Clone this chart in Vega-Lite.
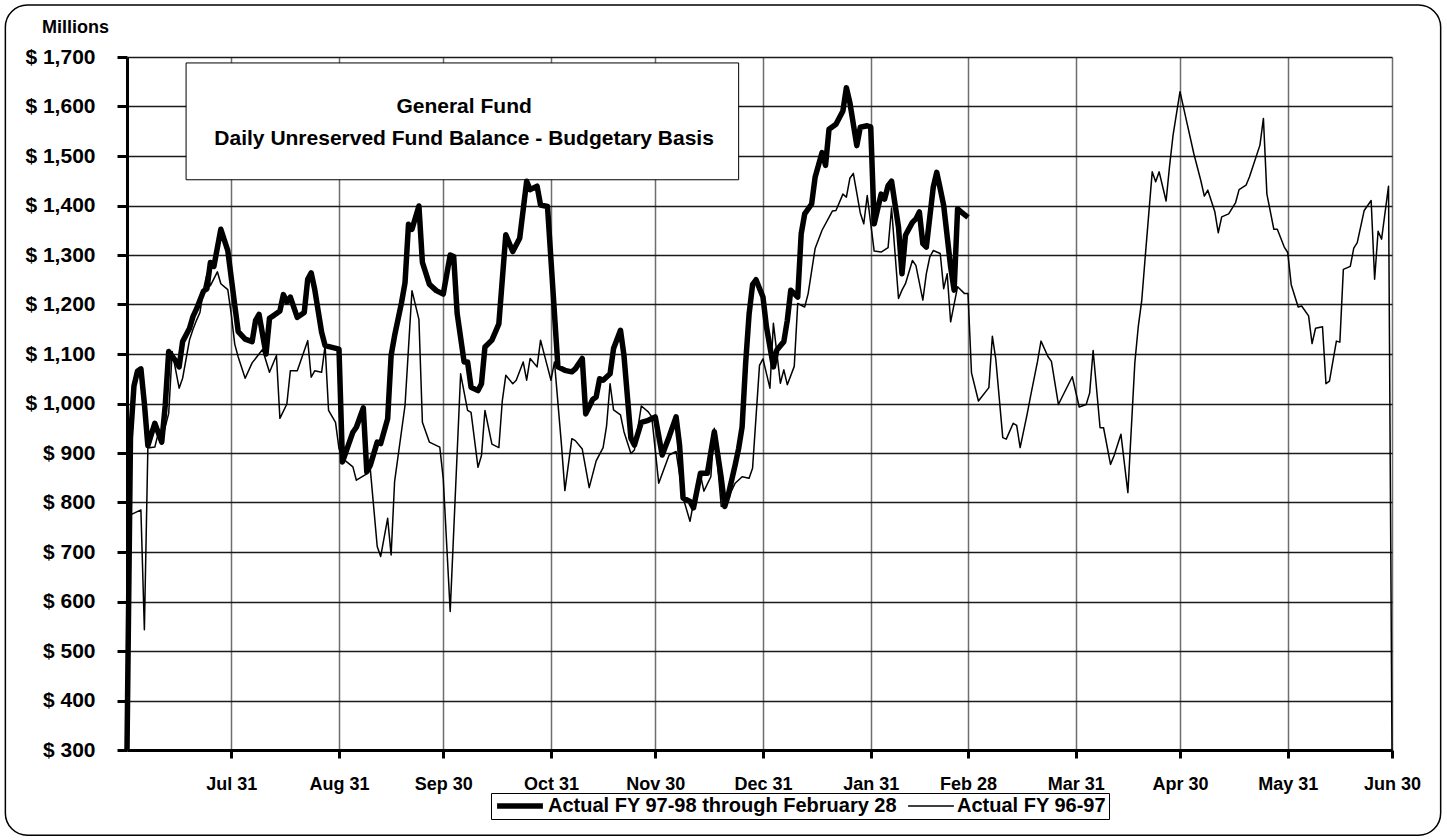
{
  "$schema": "https://vega.github.io/schema/vega-lite/v6.json",
  "width": 1265,
  "height": 693,
  "autosize": {"type": "none"},
  "padding": {"left": 127, "top": 57, "right": 55, "bottom": 90},
  "background": "white",
  "config": {"view": {"stroke": null}, "font": "Liberation Sans"},
  "datasets": {
    "fy9798": [
      {"date":"1997-07-01","value":300},{"date":"1997-07-02","value":930},{"date":"1997-07-03","value":1035},{"date":"1997-07-04","value":1065},{"date":"1997-07-05","value":1070},{"date":"1997-07-06","value":1000},{"date":"1997-07-07","value":915},{"date":"1997-07-09","value":960},{"date":"1997-07-11","value":922},{"date":"1997-07-12","value":996},{"date":"1997-07-13","value":1105},{"date":"1997-07-15","value":1086},{"date":"1997-07-16","value":1074},{"date":"1997-07-17","value":1125},{"date":"1997-07-19","value":1152},{"date":"1997-07-20","value":1176},{"date":"1997-07-21","value":1191},{"date":"1997-07-23","value":1227},{"date":"1997-07-24","value":1232},{"date":"1997-07-25","value":1285},{"date":"1997-07-26","value":1277},{"date":"1997-07-28","value":1352},{"date":"1997-07-30","value":1309},
      {"date":"1997-08-01","value":1199},{"date":"1997-08-02","value":1145},{"date":"1997-08-04","value":1130},{"date":"1997-08-06","value":1125},{"date":"1997-08-07","value":1168},{"date":"1997-08-08","value":1180},{"date":"1997-08-10","value":1100},{"date":"1997-08-11","value":1172},{"date":"1997-08-12","value":1177},{"date":"1997-08-14","value":1187},{"date":"1997-08-15","value":1220},{"date":"1997-08-16","value":1205},{"date":"1997-08-17","value":1215},{"date":"1997-08-19","value":1174},{"date":"1997-08-21","value":1184},{"date":"1997-08-22","value":1251},{"date":"1997-08-23","value":1264},{"date":"1997-08-24","value":1231},{"date":"1997-08-26","value":1144},{"date":"1997-08-27","value":1117},{"date":"1997-08-31","value":1110},
      {"date":"1997-09-01","value":882},{"date":"1997-09-04","value":942},{"date":"1997-09-05","value":952},{"date":"1997-09-07","value":991},{"date":"1997-09-08","value":862},{"date":"1997-09-09","value":875},{"date":"1997-09-11","value":922},{"date":"1997-09-12","value":919},{"date":"1997-09-14","value":969},{"date":"1997-09-15","value":1097},{"date":"1997-09-16","value":1137},{"date":"1997-09-18","value":1204},{"date":"1997-09-19","value":1244},{"date":"1997-09-20","value":1362},{"date":"1997-09-21","value":1352},{"date":"1997-09-23","value":1399},{"date":"1997-09-24","value":1285},{"date":"1997-09-26","value":1241},{"date":"1997-09-28","value":1228},{"date":"1997-09-30","value":1221},
      {"date":"1997-10-02","value":1300},{"date":"1997-10-03","value":1297},{"date":"1997-10-04","value":1182},{"date":"1997-10-06","value":1084},{"date":"1997-10-07","value":1084},{"date":"1997-10-08","value":1033},{"date":"1997-10-10","value":1026},{"date":"1997-10-11","value":1040},{"date":"1997-10-12","value":1114},{"date":"1997-10-14","value":1128},{"date":"1997-10-16","value":1161},{"date":"1997-10-18","value":1341},{"date":"1997-10-20","value":1307},{"date":"1997-10-22","value":1334},{"date":"1997-10-24","value":1449},{"date":"1997-10-25","value":1432},{"date":"1997-10-27","value":1439},{"date":"1997-10-28","value":1401},{"date":"1997-10-30","value":1398},
      {"date":"1997-11-02","value":1074},{"date":"1997-11-04","value":1067},{"date":"1997-11-06","value":1064},{"date":"1997-11-07","value":1070},{"date":"1997-11-09","value":1091},{"date":"1997-11-10","value":979},{"date":"1997-11-12","value":1008},{"date":"1997-11-13","value":1013},{"date":"1997-11-14","value":1050},{"date":"1997-11-15","value":1047},{"date":"1997-11-17","value":1060},{"date":"1997-11-18","value":1111},{"date":"1997-11-20","value":1148},{"date":"1997-11-21","value":1097},{"date":"1997-11-23","value":930},{"date":"1997-11-24","value":916},{"date":"1997-11-26","value":962},{"date":"1997-11-28","value":966},{"date":"1997-11-30","value":973},
      {"date":"1997-12-02","value":896},{"date":"1997-12-04","value":933},{"date":"1997-12-06","value":973},{"date":"1997-12-07","value":916},{"date":"1997-12-08","value":809},{"date":"1997-12-10","value":802},{"date":"1997-12-11","value":789},{"date":"1997-12-13","value":859},{"date":"1997-12-15","value":859},{"date":"1997-12-17","value":943},{"date":"1997-12-19","value":849},{"date":"1997-12-20","value":792},{"date":"1997-12-21","value":815},{"date":"1997-12-23","value":876},{"date":"1997-12-24","value":909},{"date":"1997-12-25","value":953},{"date":"1997-12-26","value":1080},{"date":"1997-12-27","value":1180},{"date":"1997-12-28","value":1240},{"date":"1997-12-29","value":1250},{"date":"1997-12-31","value":1215},
      {"date":"1998-01-01","value":1155},{"date":"1998-01-03","value":1074},{"date":"1998-01-04","value":1108},{"date":"1998-01-06","value":1125},{"date":"1998-01-07","value":1168},{"date":"1998-01-08","value":1229},{"date":"1998-01-10","value":1215},{"date":"1998-01-11","value":1343},{"date":"1998-01-12","value":1383},{"date":"1998-01-14","value":1403},{"date":"1998-01-15","value":1457},{"date":"1998-01-17","value":1507},{"date":"1998-01-18","value":1481},{"date":"1998-01-19","value":1554},{"date":"1998-01-21","value":1564},{"date":"1998-01-23","value":1591},{"date":"1998-01-24","value":1638},{"date":"1998-01-25","value":1608},{"date":"1998-01-27","value":1521},{"date":"1998-01-28","value":1558},{"date":"1998-01-30","value":1561},{"date":"1998-01-31","value":1559},
      {"date":"1998-02-01","value":1363},{"date":"1998-02-03","value":1423},{"date":"1998-02-04","value":1413},{"date":"1998-02-05","value":1440},{"date":"1998-02-06","value":1449},{"date":"1998-02-08","value":1356},{"date":"1998-02-09","value":1262},{"date":"1998-02-10","value":1340},{"date":"1998-02-12","value":1366},{"date":"1998-02-13","value":1373},{"date":"1998-02-14","value":1387},{"date":"1998-02-15","value":1323},{"date":"1998-02-16","value":1316},{"date":"1998-02-18","value":1437},{"date":"1998-02-19","value":1467},{"date":"1998-02-20","value":1434},{"date":"1998-02-21","value":1400},{"date":"1998-02-23","value":1276},{"date":"1998-02-24","value":1229},{"date":"1998-02-25","value":1393},{"date":"1998-02-26","value":1387},{"date":"1998-02-28","value":1376}
    ],
    "fy9697": [
      {"date":"1997-07-02","value":775},{"date":"1997-07-05","value":785},{"date":"1997-07-06","value":543},{"date":"1997-07-07","value":910},{"date":"1997-07-09","value":912},{"date":"1997-07-10","value":940},{"date":"1997-07-11","value":925},{"date":"1997-07-13","value":980},{"date":"1997-07-14","value":1105},{"date":"1997-07-16","value":1031},{"date":"1997-07-17","value":1051},{"date":"1997-07-19","value":1129},{"date":"1997-07-20","value":1150},{"date":"1997-07-21","value":1168},{"date":"1997-07-22","value":1184},{"date":"1997-07-23","value":1230},{"date":"1997-07-24","value":1262},{"date":"1997-07-25","value":1238},{"date":"1997-07-27","value":1266},{"date":"1997-07-28","value":1242},{"date":"1997-07-30","value":1230},{"date":"1997-07-31","value":1180},
      {"date":"1997-08-01","value":1120},{"date":"1997-08-02","value":1094},{"date":"1997-08-04","value":1051},{"date":"1997-08-06","value":1082},{"date":"1997-08-09","value":1109},{"date":"1997-08-11","value":1063},{"date":"1997-08-13","value":1097},{"date":"1997-08-14","value":970},{"date":"1997-08-16","value":999},{"date":"1997-08-17","value":1066},{"date":"1997-08-19","value":1066},{"date":"1997-08-22","value":1127},{"date":"1997-08-23","value":1053},{"date":"1997-08-24","value":1066},{"date":"1997-08-26","value":1063},{"date":"1997-08-27","value":1117},{"date":"1997-08-28","value":986},{"date":"1997-08-30","value":962},{"date":"1997-08-31","value":909},
      {"date":"1997-09-01","value":889},{"date":"1997-09-04","value":872},{"date":"1997-09-05","value":845},{"date":"1997-09-08","value":858},{"date":"1997-09-09","value":868},{"date":"1997-09-11","value":711},{"date":"1997-09-12","value":691},{"date":"1997-09-14","value":768},{"date":"1997-09-15","value":694},{"date":"1997-09-16","value":842},{"date":"1997-09-19","value":996},{"date":"1997-09-21","value":1228},{"date":"1997-09-23","value":1170},{"date":"1997-09-24","value":962},{"date":"1997-09-26","value":922},{"date":"1997-09-29","value":912},{"date":"1997-09-30","value":848},
      {"date":"1997-10-02","value":580},{"date":"1997-10-05","value":1060},{"date":"1997-10-07","value":986},{"date":"1997-10-08","value":982},{"date":"1997-10-10","value":871},{"date":"1997-10-11","value":895},{"date":"1997-10-12","value":986},{"date":"1997-10-14","value":918},{"date":"1997-10-16","value":911},{"date":"1997-10-17","value":1006},{"date":"1997-10-18","value":1057},{"date":"1997-10-20","value":1040},{"date":"1997-10-21","value":1047},{"date":"1997-10-23","value":1084},{"date":"1997-10-24","value":1047},{"date":"1997-10-25","value":1091},{"date":"1997-10-27","value":1074},{"date":"1997-10-28","value":1128},{"date":"1997-10-30","value":1074},{"date":"1997-10-31","value":1047},
      {"date":"1997-11-01","value":1084},{"date":"1997-11-03","value":918},{"date":"1997-11-04","value":824},{"date":"1997-11-06","value":929},{"date":"1997-11-07","value":925},{"date":"1997-11-09","value":908},{"date":"1997-11-11","value":830},{"date":"1997-11-13","value":884},{"date":"1997-11-15","value":911},{"date":"1997-11-16","value":955},{"date":"1997-11-17","value":1040},{"date":"1997-11-18","value":987},{"date":"1997-11-20","value":977},{"date":"1997-11-21","value":943},{"date":"1997-11-23","value":899},{"date":"1997-11-24","value":906},{"date":"1997-11-26","value":995},{"date":"1997-11-28","value":983},{"date":"1997-11-29","value":973},
      {"date":"1997-12-01","value":839},{"date":"1997-12-04","value":896},{"date":"1997-12-06","value":903},{"date":"1997-12-08","value":810},{"date":"1997-12-10","value":762},{"date":"1997-12-11","value":799},{"date":"1997-12-13","value":856},{"date":"1997-12-14","value":823},{"date":"1997-12-16","value":852},{"date":"1997-12-17","value":950},{"date":"1997-12-19","value":792},{"date":"1997-12-20","value":795},{"date":"1997-12-23","value":839},{"date":"1997-12-25","value":852},{"date":"1997-12-27","value":849},{"date":"1997-12-28","value":869},{"date":"1997-12-30","value":1077},{"date":"1997-12-31","value":1090},
      {"date":"1998-01-02","value":1031},{"date":"1998-01-03","value":1162},{"date":"1998-01-05","value":1041},{"date":"1998-01-06","value":1068},{"date":"1998-01-07","value":1038},{"date":"1998-01-09","value":1075},{"date":"1998-01-10","value":1202},{"date":"1998-01-12","value":1195},{"date":"1998-01-13","value":1222},{"date":"1998-01-15","value":1313},{"date":"1998-01-17","value":1350},{"date":"1998-01-20","value":1389},{"date":"1998-01-21","value":1390},{"date":"1998-01-23","value":1423},{"date":"1998-01-24","value":1417},{"date":"1998-01-25","value":1455},{"date":"1998-01-26","value":1465},{"date":"1998-01-27","value":1425},{"date":"1998-01-28","value":1385},{"date":"1998-01-29","value":1363},{"date":"1998-01-30","value":1420},
      {"date":"1998-02-01","value":1308},{"date":"1998-02-03","value":1306},{"date":"1998-02-05","value":1315},{"date":"1998-02-06","value":1395},{"date":"1998-02-08","value":1212},{"date":"1998-02-09","value":1229},{"date":"1998-02-10","value":1242},{"date":"1998-02-12","value":1289},{"date":"1998-02-13","value":1279},{"date":"1998-02-15","value":1209},{"date":"1998-02-16","value":1262},{"date":"1998-02-17","value":1296},{"date":"1998-02-18","value":1309},{"date":"1998-02-20","value":1303},{"date":"1998-02-21","value":1232},{"date":"1998-02-22","value":1262},{"date":"1998-02-23","value":1165},{"date":"1998-02-25","value":1236},{"date":"1998-02-27","value":1222},{"date":"1998-02-28","value":1222},
      {"date":"1998-03-01","value":1062},{"date":"1998-03-03","value":1005},{"date":"1998-03-06","value":1032},{"date":"1998-03-07","value":1136},{"date":"1998-03-08","value":1089},{"date":"1998-03-10","value":931},{"date":"1998-03-11","value":928},{"date":"1998-03-13","value":960},{"date":"1998-03-14","value":956},{"date":"1998-03-15","value":911},{"date":"1998-03-17","value":978},{"date":"1998-03-18","value":1015},{"date":"1998-03-20","value":1085},{"date":"1998-03-21","value":1126},{"date":"1998-03-23","value":1095},{"date":"1998-03-24","value":1085},{"date":"1998-03-26","value":998},{"date":"1998-03-30","value":1054},
      {"date":"1998-04-01","value":993},{"date":"1998-04-03","value":998},{"date":"1998-04-04","value":1021},{"date":"1998-04-05","value":1107},{"date":"1998-04-07","value":951},{"date":"1998-04-08","value":951},{"date":"1998-04-10","value":877},{"date":"1998-04-11","value":894},{"date":"1998-04-13","value":938},{"date":"1998-04-15","value":820},{"date":"1998-04-17","value":1082},{"date":"1998-04-18","value":1156},{"date":"1998-04-19","value":1209},{"date":"1998-04-20","value":1297},{"date":"1998-04-22","value":1468},{"date":"1998-04-23","value":1448},{"date":"1998-04-24","value":1468},{"date":"1998-04-26","value":1409},{"date":"1998-04-27","value":1480},{"date":"1998-04-28","value":1542},{"date":"1998-04-30","value":1630},
      {"date":"1998-05-02","value":1567},{"date":"1998-05-04","value":1504},{"date":"1998-05-06","value":1450},{"date":"1998-05-07","value":1419},{"date":"1998-05-08","value":1431},{"date":"1998-05-10","value":1388},{"date":"1998-05-11","value":1345},{"date":"1998-05-12","value":1377},{"date":"1998-05-14","value":1383},{"date":"1998-05-16","value":1406},{"date":"1998-05-17","value":1432},{"date":"1998-05-19","value":1441},{"date":"1998-05-20","value":1458},{"date":"1998-05-23","value":1522},{"date":"1998-05-24","value":1576},{"date":"1998-05-25","value":1423},{"date":"1998-05-27","value":1352},{"date":"1998-05-28","value":1352},{"date":"1998-05-30","value":1316},{"date":"1998-05-31","value":1305},
      {"date":"1998-06-01","value":1240},{"date":"1998-06-03","value":1195},{"date":"1998-06-04","value":1197},{"date":"1998-06-06","value":1177},{"date":"1998-06-07","value":1121},{"date":"1998-06-08","value":1152},{"date":"1998-06-10","value":1155},{"date":"1998-06-11","value":1040},{"date":"1998-06-12","value":1045},{"date":"1998-06-14","value":1126},{"date":"1998-06-15","value":1124},{"date":"1998-06-16","value":1271},{"date":"1998-06-18","value":1277},{"date":"1998-06-19","value":1314},{"date":"1998-06-20","value":1325},{"date":"1998-06-22","value":1390},{"date":"1998-06-24","value":1410},{"date":"1998-06-25","value":1251},{"date":"1998-06-26","value":1348},{"date":"1998-06-27","value":1332},{"date":"1998-06-29","value":1439},{"date":"1998-06-30","value":300}
    ]
  },
  "layer": [
    {
      "data": {"values": [{}]},
      "mark": {"type": "rect", "fillOpacity": 0, "stroke": "black", "strokeWidth": 1.5, "cornerRadius": 22},
      "encoding": {
        "x": {"datum": {"year": 1997, "month": 5, "date": 27, "utc": true}, "type": "temporal"},
        "x2": {"datum": {"year": 1998, "month": 7, "date": 14, "utc": true}},
        "y": {"datum": 1805, "type": "quantitative"},
        "y2": {"datum": 128}
      }
    },
    {
      "data": {"values": [{}]},
      "mark": {"type": "rect", "fill": "white", "stroke": "black", "strokeWidth": 1},
      "encoding": {
        "x": {"datum": {"year": 1997, "month": 7, "date": 18, "utc": true}, "type": "temporal"},
        "x2": {"datum": {"year": 1997, "month": 12, "date": 24, "utc": true}},
        "y": {"datum": 1688, "type": "quantitative"},
        "y2": {"datum": 1452}
      }
    },
    {
      "data": {"name": "fy9697"},
      "mark": {"type": "line", "color": "black", "strokeJoin": "round"},
      "encoding": {
        "x": {
          "field": "date", "type": "temporal",
          "scale": {"type": "utc", "nice": false, "domain": [{"year": 1997, "month": 7, "date": 1, "utc": true}, {"year": 1998, "month": 6, "date": 30, "utc": true}]},
          "axis": {
            "title": "",
            "values": [
              {"year": 1997, "month": 7, "date": 31, "utc": true},
              {"year": 1997, "month": 8, "date": 31, "utc": true},
              {"year": 1997, "month": 9, "date": 30, "utc": true},
              {"year": 1997, "month": 10, "date": 31, "utc": true},
              {"year": 1997, "month": 11, "date": 30, "utc": true},
              {"year": 1997, "month": 12, "date": 31, "utc": true},
              {"year": 1998, "month": 1, "date": 31, "utc": true},
              {"year": 1998, "month": 2, "date": 28, "utc": true},
              {"year": 1998, "month": 3, "date": 31, "utc": true},
              {"year": 1998, "month": 4, "date": 30, "utc": true},
              {"year": 1998, "month": 5, "date": 31, "utc": true},
              {"year": 1998, "month": 6, "date": 30, "utc": true}
            ],
            "format": "%b %d",
            "labelFont": "Liberation Sans", "labelFontSize": 18, "labelFontWeight": "bold", "labelColor": "black",
            "labelPadding": 17, "labelOverlap": false, "labelFlush": false,
            "tickSize": 8, "tickWidth": 3, "tickColor": "black",
            "domainColor": "black", "domainWidth": 3,
            "grid": true, "gridColor": "#6e6e6e", "gridWidth": 1.5
          }
        },
        "y": {
          "field": "value", "type": "quantitative",
          "scale": {"domain": [300, 1700], "nice": false, "zero": false},
          "axis": {
            "title": "Millions", "titleAngle": 0, "titleX": -52, "titleY": -30, "titleAlign": "center", "titleBaseline": "middle",
            "titleFont": "Liberation Sans", "titleFontSize": 18, "titleFontWeight": "bold", "titleColor": "black",
            "values": [300, 400, 500, 600, 700, 800, 900, 1000, 1100, 1200, 1300, 1400, 1500, 1600, 1700],
            "labelExpr": "'$ ' + format(datum.value, ',')",
            "labelFont": "Liberation Sans", "labelFontSize": 21, "labelFontWeight": "bold", "labelColor": "black",
            "labelPadding": 22, "labelOverlap": false, "labelFlush": false,
            "tickSize": 10, "tickWidth": 3, "tickColor": "black",
            "domainColor": "black", "domainWidth": 3,
            "grid": true, "gridColor": "#1a1a1a", "gridWidth": 1.5
          }
        },
        "strokeWidth": {
          "datum": "Actual FY 96-97", "type": "nominal",
          "scale": {"domain": ["Actual FY 97-98 through February 28", "Actual FY 96-97"], "range": [5.5, 1.5]},
          "legend": {
            "title": null, "orient": "none", "legendX": 364, "legendY": 736, "direction": "horizontal",
            "symbolType": "stroke", "symbolSize": 2100, "symbolStrokeColor": "black", "clipHeight": 20,
            "labelFont": "Liberation Sans", "labelFontSize": 20, "labelFontWeight": "bold", "labelColor": "black",
            "labelLimit": 600, "labelOffset": 2, "columnPadding": 10, "padding": 3, "strokeColor": "black", "fillColor": "white"
          }
        }
      }
    },
    {
      "data": {"name": "fy9798"},
      "mark": {"type": "line", "color": "black", "strokeJoin": "round"},
      "encoding": {
        "x": {"field": "date", "type": "temporal"},
        "y": {"field": "value", "type": "quantitative"},
        "strokeWidth": {"datum": "Actual FY 97-98 through February 28", "type": "nominal"}
      }
    },
    {
      "data": {"values": [{}]},
      "mark": {"type": "text", "font": "Liberation Sans", "fontSize": 21, "fontWeight": "bold", "color": "black", "align": "center", "baseline": "middle"},
      "encoding": {
        "x": {"datum": {"year": 1997, "month": 10, "date": 6, "utc": true}, "type": "temporal"},
        "y": {"datum": 1599, "type": "quantitative"},
        "text": {"value": "General Fund"}
      }
    },
    {
      "data": {"values": [{}]},
      "mark": {"type": "text", "font": "Liberation Sans", "fontSize": 21, "fontWeight": "bold", "color": "black", "align": "center", "baseline": "middle"},
      "encoding": {
        "x": {"datum": {"year": 1997, "month": 10, "date": 6, "utc": true}, "type": "temporal"},
        "y": {"datum": 1535, "type": "quantitative"},
        "text": {"value": "Daily Unreserved Fund Balance - Budgetary Basis"}
      }
    }
  ]
}
